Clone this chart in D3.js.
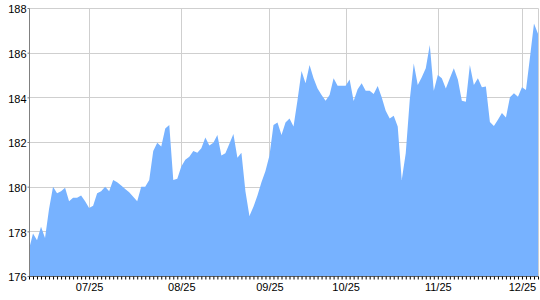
<!DOCTYPE html>
<html><head><meta charset="utf-8">
<script src="https://cdn.jsdelivr.net/npm/d3@7"></script>
<style>body{margin:0;background:#fff}svg{display:block}</style>
</head><body>
<svg id="c" width="540" height="300"></svg>
<script>
const values = [
177.2,177.9,177.6,178.2,177.7,179.0,180.0,179.7,179.8,179.95,
179.35,179.5,179.5,179.6,179.35,179.05,179.15,179.7,179.8,180.0,
179.8,180.3,180.2,180.05,179.9,179.75,179.55,179.35,180.0,180.0,
180.3,181.6,181.97,181.8,182.6,182.76,180.3,180.36,180.9,181.2,
181.34,181.6,181.52,181.72,182.2,181.84,181.97,182.31,181.39,181.5,
181.92,182.36,181.3,181.52,179.8,178.69,179.1,179.6,180.2,180.7,
181.4,182.76,182.87,182.31,182.87,183.05,182.69,183.88,185.18,184.63,
185.45,184.85,184.4,184.1,183.85,184.1,184.85,184.52,184.52,184.52,
184.8,183.84,184.36,184.63,184.3,184.29,184.15,184.51,184.0,183.4,
183.05,183.17,182.69,180.3,181.5,183.88,185.52,184.55,184.9,185.3,
186.34,184.3,185.0,184.85,184.4,184.85,185.3,184.8,183.85,183.8,
185.45,184.55,184.85,184.45,184.48,182.9,182.72,183.0,183.3,183.1,
184.0,184.18,184.03,184.45,184.33,185.8,187.31,186.85
];
const tickLabels = ["07/25","08/25","09/25","10/25","11/25","12/25"];
const tickIndex = [15,38,60,79,102,123];
const yTicks = [176,178,180,182,184,186,188];

const svg = d3.select("#c");
const L=29.5, R=538.5, T=8.5, B=276.5;
const x = d3.scaleLinear().domain([0, values.length-1]).range([29, 538]);
const y = d3.scaleLinear().domain([176,188]).range([276, 8]);

// grid
svg.append("g").selectAll("line").data(yTicks.slice(1)).join("line")
  .attr("x1",L).attr("x2",R).attr("y1",d=>Math.round(y(d))+0.5).attr("y2",d=>Math.round(y(d))+0.5)
  .attr("stroke","#cfcfcf");
svg.append("g").selectAll("line").data(tickIndex).join("line")
  .attr("x1",d=>Math.round(x(d))+0.5).attr("x2",d=>Math.round(x(d))+0.5).attr("y1",T).attr("y2",B)
  .attr("stroke","#cfcfcf");
svg.append("line").attr("x1",R).attr("x2",R).attr("y1",T).attr("y2",B).attr("stroke","#cfcfcf");

// area
const area = d3.area().x((d,i)=>x(i)).y0(y(176)).y1(d=>y(d));
svg.append("path").datum(values).attr("d",area).attr("fill","#77b2ff");

// axes
const yAxis = d3.axisLeft(y).tickValues(yTicks).tickSize(2).tickFormat(d3.format("d"));
const gy = svg.append("g").attr("transform",`translate(${L},0)`).call(yAxis);
gy.select(".domain").attr("stroke","#808080").attr("d",`M0,${T}V${B}`);
gy.selectAll(".tick line").attr("stroke","#808080");
gy.selectAll("text").attr("font-family","Liberation Sans, Arial, sans-serif").attr("font-size",11)
  .attr("fill","#000").attr("x",-3).attr("dy","0.45em");

const xMinor = d3.axisBottom(x).tickValues(d3.range(values.length)).tickSize(3).tickFormat("");
const gx = svg.append("g").attr("transform",`translate(0,${B})`).call(xMinor);
gx.select(".domain").attr("stroke","#606060").attr("d",`M${L},0H${R}`);
gx.selectAll(".tick line").attr("stroke","#000");

const xLab = d3.axisBottom(x).tickValues(tickIndex).tickSize(0).tickFormat((d,i)=>tickLabels[i]);
const gl = svg.append("g").attr("transform",`translate(0,${B})`).call(xLab);
gl.select(".domain").remove();
gl.selectAll("text").attr("font-family","Liberation Sans, Arial, sans-serif").attr("font-size",11)
  .attr("fill","#000").attr("y",7);
</script>
</body></html>
